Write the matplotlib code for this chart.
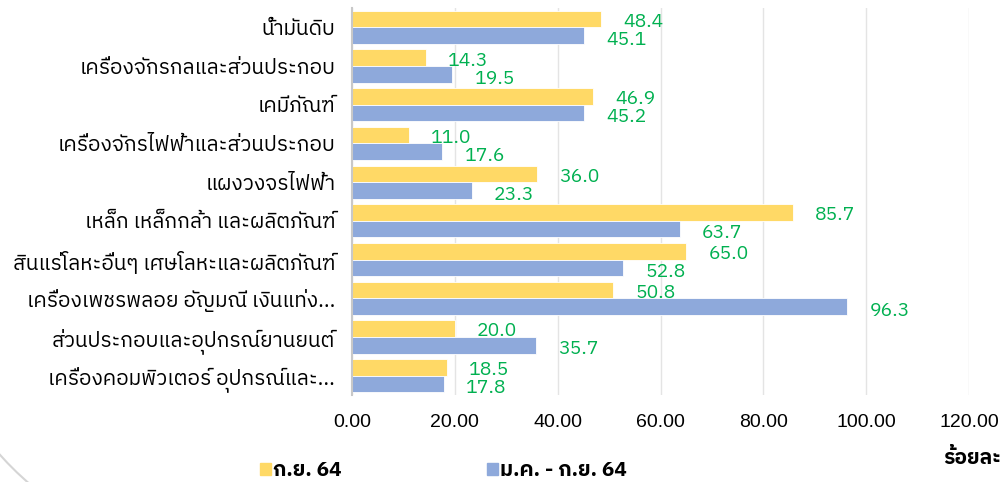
import matplotlib
matplotlib.use("Agg")
import matplotlib.pyplot as plt
import numpy as np
from matplotlib import font_manager
from matplotlib.ft2font import FT2Font
from matplotlib.patches import Arc, Patch


# data
categories = [
    "น้ำมันดิบ",
    "เครื่องจักรกลและส่วนประกอบ",
    "เคมีภัณฑ์",
    "เครื่องจักรไฟฟ้าและส่วนประกอบ",
    "แผงวงจรไฟฟ้า",
    "เหล็ก เหล็กกล้า และผลิตภัณฑ์",
    "สินแร่โลหะอื่นๆ เศษโลหะและผลิตภัณฑ์",
    "เครื่องเพชรพลอย อัญมณี เงินแท่ง...",
    "ส่วนประกอบและอุปกรณ์ยานยนต์",
    "เครื่องคอมพิวเตอร์ อุปกรณ์และ...",
]
sep_64 = [48.4, 14.3, 46.9, 11.0, 36.0, 85.7, 65.0, 50.8, 20.0, 18.5]
jan_sep_64 = [45.1, 19.5, 45.2, 17.6, 23.3, 63.7, 52.8, 96.3, 35.7, 17.8]
series_names = ["ก.ย. 64", "ม.ค. - ก.ย. 64"]
x_ticks = [0, 20, 40, 60, 80, 100, 120]
unit_label = "ร้อยละ"


# find some installed font that has thai glyphs
def find_thai_font():
    names = []
    for f in font_manager.fontManager.ttflist:
        try:
            if 0x0E01 in FT2Font(f.fname).get_charmap():
                names.append(f.name)
        except Exception:
            pass
    names.sort(key=lambda n: (0 if "Thai" in n else 1, n))
    return names[0] if names else None


thai = find_thai_font()
thai_family = [thai, "DejaVu Sans"] if thai else ["DejaVu Sans"]
plt.rcParams['font.family'] = thai_family

YELLOW = "#FFD966"
BLUE = "#8EA9DB"
GREEN = "#00B050"

fig = plt.figure(figsize=(10.05, 4.82), dpi=100)
ax = fig.add_axes([352 / 1005, 87 / 482, 617 / 1005, 387 / 482])

y = np.arange(len(categories))
h = 0.43
ax.barh(y - h / 2, sep_64, height=h, color=YELLOW, edgecolor="white", linewidth=0.6, zorder=3)
ax.barh(y + h / 2, jan_sep_64, height=h, color=BLUE, edgecolor="white", linewidth=0.6, zorder=3)

for yi, v in zip(y, sep_64):
    ax.annotate("{:.1f}".format(v), (v, yi - h / 2), xytext=(16, -2), textcoords="offset points",
                ha="left", va="center", color=GREEN, fontsize=14)
for yi, v in zip(y, jan_sep_64):
    ax.annotate("{:.1f}".format(v), (v, yi + h / 2), xytext=(16, -3), textcoords="offset points",
                ha="left", va="center", color=GREEN, fontsize=14)

ax.set_xlim(0, 120)
ax.set_ylim(len(categories) - 0.5, -0.5)
ax.set_xticks(x_ticks)
ax.set_xticklabels(["{:.2f}".format(t) for t in x_ticks], fontsize=14, family="Liberation Sans")
ax.set_yticks(y)
ax.set_yticklabels(categories, fontsize=15)
ax.tick_params(axis="both", length=0)
ax.tick_params(axis="y", pad=12)
ax.tick_params(axis="x", pad=14)

ax.grid(axis="x", color="#E4E4E4", linewidth=1, zorder=0)
for s in ["top", "right", "bottom"]:
    ax.spines[s].set_visible(False)
ax.spines["left"].set_color("#C8C8C8")
ax.spines["left"].set_linewidth(1.5)
ax.spines["left"].set_zorder(4)

handles = [Patch(color=YELLOW), Patch(color=BLUE)]
fig.legend(handles, series_names, loc="center left", bbox_to_anchor=(250 / 1005, 11 / 482),
           ncol=2, frameon=False, borderpad=0, handlelength=0.5, handleheight=0.5,
           handletextpad=0.1, columnspacing=7.0, prop={"weight": "bold", "size": 15})

fig.text(0.996, 1 - 458 / 482, unit_label, ha="right", va="center", fontsize=15, weight="bold")

# faint decorative arc in the lower left corner
arc = Arc((230, 232), 616, 616, theta1=180, theta2=260, transform=None,
          color="#D5D5D5", linewidth=1.5)
fig.patches.append(arc)

fig.savefig("out.png", dpi=100)
